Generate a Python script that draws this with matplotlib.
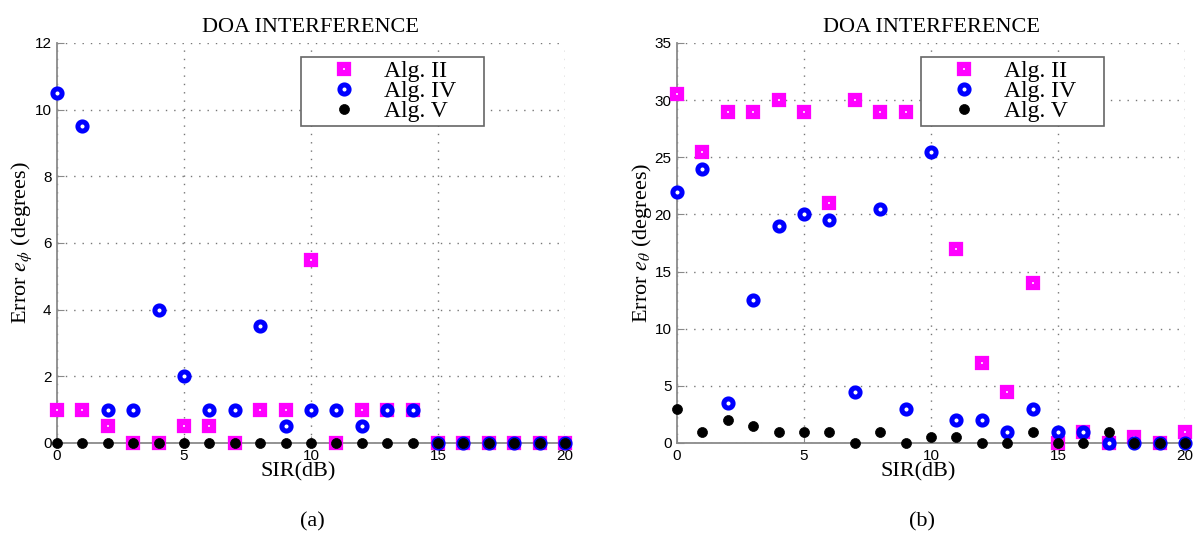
import numpy as np
import matplotlib.pyplot as plt

plt.rcParams['font.family'] = 'serif'
plt.rcParams['font.serif'] = ['Liberation Serif', 'DejaVu Serif']
plt.rcParams['mathtext.fontset'] = 'stix'

sir = np.arange(0, 21)

# (a) azimuth error e_phi
phi_alg2 = [1, 1, 0.5, 0, 0, 0.5, 0.5, 0, 1, 1, 5.5, 0, 1, 1, 1, 0, 0, 0, 0, 0, 0]
phi_alg4 = [10.5, 9.5, 1, 1, 4, 2, 1, 1, 3.5, 0.5, 1, 1, 0.5, 1, 1, 0, 0, 0, 0, 0, 0]
phi_alg5 = [0] * 21

# (b) elevation error e_theta
theta_alg2 = [30.5, 25.5, 29, 29, 30, 29, 21, 30, 29, 29, 29, 17, 7, 4.5, 14, 0, 1, 0, 0.5, 0, 1]
theta_alg4 = [22, 24, 3.5, 12.5, 19, 20, 19.5, 4.5, 20.5, 3, 25.5, 2, 2, 1, 3, 1, 1, 0, 0, 0, 0]
theta_alg5 = [3, 1, 2, 1.5, 1, 1, 1, 0, 1, 0, 0.5, 0.5, 0, 0, 1, 0, 0, 1, 0, 0, 0]

legend_names = ['Alg. II', 'Alg. IV', 'Alg. V']

fig = plt.figure(figsize=(11.97, 5.38), dpi=100)
ax1 = fig.add_axes([0.0476, 0.1766, 0.4244, 0.7435])
ax2 = fig.add_axes([0.5656, 0.1766, 0.4244, 0.7435])


def draw(ax, y2, y4, y5, ymax, ystep, ylabel):
    ax.plot(sir, y2, ls='none', marker='s', ms=5.8, mfc='white', mec='#ff00ff',
            mew=4.5, clip_on=False, zorder=3, label=legend_names[0])
    ax.plot(sir, y4, ls='none', marker='o', ms=6.6, mfc='white', mec='#0000ff',
            mew=3.6, clip_on=False, zorder=4, label=legend_names[1])
    ax.plot(sir, y5, ls='none', marker='o', ms=7.2, mfc='black', mec='black',
            mew=0.5, clip_on=False, zorder=5, label=legend_names[2])

    ax.set_xlim(0, 20)
    ax.set_ylim(0, ymax)
    ax.set_xticks(np.arange(0, 21, 5))
    ax.set_yticks(np.arange(0, ymax + 0.1, ystep))
    ax.grid(True, color='#777777', linestyle=(0, (1, 5)), linewidth=1.0)

    for s in ['top', 'right']:
        ax.spines[s].set_visible(False)
    for s in ['left', 'bottom']:
        ax.spines[s].set_color('#8a8a8a')
        ax.spines[s].set_linewidth(1.3)
    ax.tick_params(direction='in', length=5, color='#8a8a8a', labelsize=11,
                   labelfontfamily='Liberation Sans', pad=4)

    ax.set_title('DOA INTERFERENCE', fontsize=16, pad=8)
    ax.set_xlabel('SIR(dB)', fontsize=16, labelpad=0)
    ax.xaxis.set_label_coords(0.474, -0.048)
    ax.set_ylabel(ylabel, fontsize=16, labelpad=0)

    leg = ax.legend(loc='upper left', bbox_to_anchor=(0.48, 0.79, 0.3605, 0.176),
                    mode='expand', fontsize=17, frameon=True, fancybox=False,
                    edgecolor='#666666', framealpha=1,
                    borderpad=0.18, handlelength=3.3, handletextpad=0.05,
                    labelspacing=-0.07, borderaxespad=0)
    leg.get_frame().set_linewidth(1.2)
    leg.set_zorder(10)


draw(ax1, phi_alg2, phi_alg4, phi_alg5, 12, 2, r'Error $e_\phi$ (degrees)')
draw(ax2, theta_alg2, theta_alg4, theta_alg5, 35, 5, r'Error $e_\theta$ (degrees)')

fig.text(0.2607, 0.03, '(a)', fontsize=16, ha='center', va='center')
fig.text(0.770, 0.03, '(b)', fontsize=16, ha='center', va='center')

fig.savefig('out.png', dpi=100)
